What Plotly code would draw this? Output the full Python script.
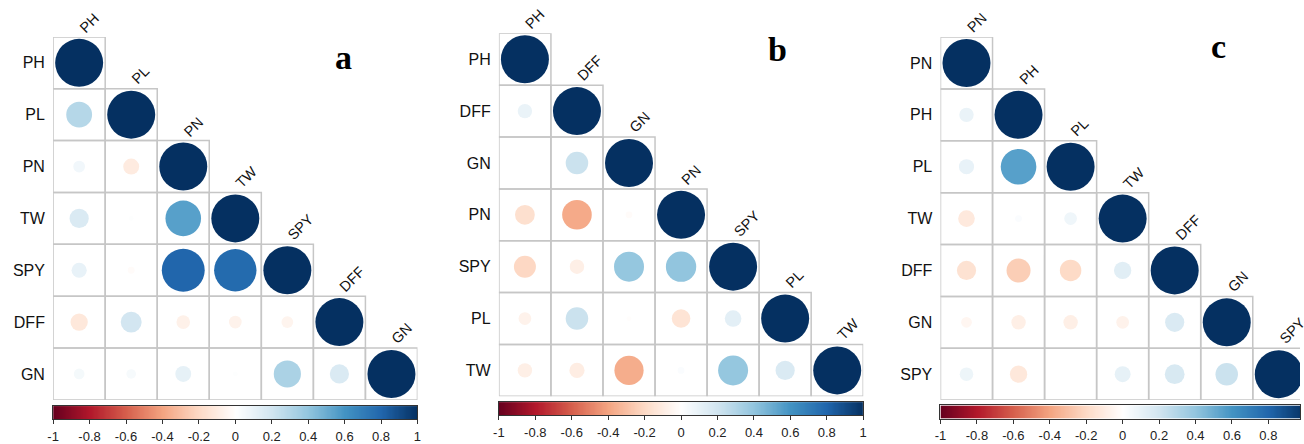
import numpy as np
import plotly.graph_objects as go

# ---------------- data ----------------
labels_a = ["PH", "PL", "PN", "TW", "SPY", "DFF", "GN"]
corr_a = [
    [1.0],
    [0.29, 1.0],
    [0.06, -0.11, 1.0],
    [0.16, 0.01, 0.55, 1.0],
    [0.10, -0.02, 0.80, 0.78, 1.0],
    [-0.13, 0.19, -0.08, -0.07, -0.06, 1.0],
    [0.05, 0.04, 0.11, 0.01, 0.32, 0.16, 1.0],
]

labels_b = ["PH", "DFF", "GN", "PN", "SPY", "PL", "TW"]
corr_b = [
    [1.0],
    [0.09, 1.0],
    [0.0, 0.22, 1.0],
    [-0.17, -0.38, -0.02, 1.0],
    [-0.21, -0.09, 0.39, 0.40, 1.0],
    [-0.07, 0.22, -0.01, -0.15, 0.12, 1.0],
    [-0.09, -0.10, -0.37, 0.02, 0.39, 0.16, 1.0],
]

labels_c = ["PN", "PH", "PL", "TW", "DFF", "GN", "SPY"]
corr_c = [
    [1.0],
    [0.09, 1.0],
    [0.10, 0.55, 1.0],
    [-0.12, 0.02, 0.07, 1.0],
    [-0.16, -0.25, -0.20, 0.13, 1.0],
    [-0.05, -0.09, -0.09, -0.07, 0.16, 1.0],
    [0.08, -0.13, 0.0, 0.11, 0.17, 0.22, 1.0],
]

panel_letters = ["a", "b", "c"]
cbar_tickvals = [-1, -0.8, -0.6, -0.4, -0.2, 0, 0.2, 0.4, 0.6, 0.8, 1]
cbar_ticktext = ["-1", "-0.8", "-0.6", "-0.4", "-0.2", "0", "0.2", "0.4", "0.6", "0.8", "1"]

# ---------------- style ----------------
W, H = 1304, 444
CELL = 52.45
RDBU = ["#67001F", "#B2182B", "#D6604D", "#F4A582", "#FDDBC7", "#FFFFFF",
        "#D1E5F0", "#92C5DE", "#4393C3", "#2166AC", "#053061"]
colorscale = [[i / 10, c] for i, c in enumerate(RDBU)]
SANS = "Liberation Sans, Arial, Helvetica, sans-serif"
SERIF = "Liberation Serif, Times New Roman, serif"
GRID = "#c6c6c6"

layout_pos = [
    dict(left=47.5, top=37.3, cb_top=410.7, cb_bot=424.0, lx=340, ly=58),
    dict(left=496.7, top=33.7, cb_top=406.7, cb_bot=420.0, lx=777, ly=50),
    dict(left=941.7, top=37.5, cb_top=410.0, cb_bot=423.4, lx=1222, ly=47),
]
datasets = [(labels_a, corr_a), (labels_b, corr_b), (labels_c, corr_c)]

fig = go.Figure()
shapes, annotations = [], []
layout = {}

grad = np.linspace(-1, 1, 301)

for k, ((labels, corr), pos, letter) in enumerate(zip(datasets, layout_pos, panel_letters)):
    n = len(labels)
    mi = 2 * k + 1
    ci = 2 * k + 2
    mx = "x" if mi == 1 else f"x{mi}"
    my = "y" if mi == 1 else f"y{mi}"
    cx, cy = f"x{ci}", f"y{ci}"
    left, top = pos["left"], pos["top"]
    right_full = left + n * CELL
    right = min(right_full, W)
    bottom = top + n * CELL
    xr = [-0.5, -0.5 + (right - left) / CELL]

    xs, ys, vals = [], [], []
    for i, row in enumerate(corr):
        for j, v in enumerate(row):
            xs.append(j)
            ys.append(i)
            vals.append(v)
            shapes.append(dict(type="rect", xref=mx, yref=my,
                               x0=j - 0.5, x1=j + 0.5, y0=i - 0.5, y1=i + 0.5,
                               line=dict(color=GRID, width=1.5), layer="below"))
    vals = np.array(vals)
    sizes = 0.915 * CELL * np.sqrt(np.abs(vals))
    fig.add_trace(go.Scatter(
        x=xs, y=ys, mode="markers", xaxis=mx, yaxis=my,
        marker=dict(size=sizes, color=vals, colorscale=colorscale, cmin=-1, cmax=1,
                    line=dict(width=0), opacity=1),
        hoverinfo="skip", showlegend=False, cliponaxis=True))

    # colorbar drawn as a thin heatmap on its own axis
    fig.add_trace(go.Heatmap(
        x=grad, y=[0], z=[grad], xaxis=cx, yaxis=cy, colorscale=colorscale,
        zmin=-1, zmax=1, showscale=False, zsmooth="best", hoverinfo="skip"))

    layout["xaxis" if mi == 1 else f"xaxis{mi}"] = dict(
        domain=[left / W, right / W], range=xr, anchor=my,
        showgrid=False, zeroline=False, showline=False, showticklabels=False, fixedrange=True)
    layout[f"yaxis{'' if mi == 1 else mi}"] = dict(
        domain=[1 - bottom / H, 1 - top / H], range=[n - 0.5, -0.5], anchor=mx,
        showgrid=False, zeroline=False, showline=False,
        tickmode="array", tickvals=list(range(n)), ticktext=labels,
        ticks="outside", ticklen=4, tickcolor="rgba(0,0,0,0)",
        tickfont=dict(family=SANS, size=16, color="#111"), fixedrange=True)

    layout[f"xaxis{ci}"] = dict(
        domain=[left / W, right / W], range=[-1, -1 + 2 * (right - left) / (n * CELL)],
        anchor=cy, showgrid=False, zeroline=False, showline=True, mirror=True,
        linecolor="#333", linewidth=1.2,
        tickmode="array", tickvals=cbar_tickvals, ticktext=cbar_ticktext,
        ticks="outside", ticklen=4, tickcolor="#333", tickwidth=1,
        ticklabelstandoff=1,
        tickfont=dict(family=SANS, size=13, color="#222"), fixedrange=True)
    layout[f"yaxis{ci}"] = dict(
        domain=[1 - pos["cb_bot"] / H, 1 - pos["cb_top"] / H], range=[-0.5, 0.5],
        anchor=cx, showgrid=False, zeroline=False, showline=True, mirror=True,
        linecolor="#333", linewidth=1.2, showticklabels=False, ticks="", fixedrange=True)

    for j, lab in enumerate(labels):
        annotations.append(dict(
            xref=mx, yref=my, x=j, y=j - 0.5, text=lab, textangle=-45,
            xanchor="left", yanchor="bottom", showarrow=False, xshift=-5.5, yshift=-1.5,
            font=dict(family=SANS, size=14.5, color="#111")))

    annotations.append(dict(
        xref="paper", yref="paper", x=pos["lx"] / W, y=1 - pos["ly"] / H,
        text=f"<b>{letter}</b>", showarrow=False, xanchor="center", yanchor="middle",
        font=dict(family=SERIF, size=34, color="#000")))

fig.update_layout(
    width=W, height=H, margin=dict(l=0, r=0, t=0, b=0),
    paper_bgcolor="white", plot_bgcolor="rgba(0,0,0,0)",
    shapes=shapes, annotations=annotations, **layout)

fig.write_html("out.html", config={"displayModeBar": False})
